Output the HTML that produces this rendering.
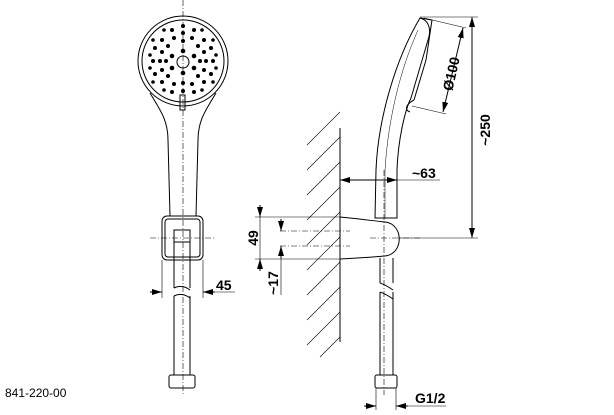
<!DOCTYPE html>
<html><head><style>body{margin:0;background:#fff}svg{display:block}text{font-family:"Liberation Sans",sans-serif;font-weight:bold;fill:#000}</style></head><body>
<svg width="614" height="415" viewBox="0 0 614 415" xmlns="http://www.w3.org/2000/svg">
<defs><marker id="a" markerWidth="10" markerHeight="6" refX="10" refY="3" orient="auto-start-reverse" markerUnits="userSpaceOnUse"><path d="M0,0L10,3L0,6z" fill="#000"/></marker></defs>
<g fill="none" stroke="#000" stroke-width="1">
<circle cx="183" cy="61" r="45"/>
<circle cx="183" cy="61" r="41"/>
<circle cx="183" cy="62" r="6"/>
<path d="M150,93 C160,110 168,120 168,140 L170,216 M216,93 C206,110 198,120 198,140 L196,216"/>
<rect x="180" y="95" width="5" height="15"/>
<line x1="183" y1="0" x2="183" y2="395" stroke-dasharray="6,2,1,2" stroke-width="0.6"/>
<rect x="162" y="216" width="41" height="44" rx="5"/>
<rect x="165" y="219" width="35" height="38" rx="3"/>
<rect x="174" y="230" width="16" height="12"/>
<line x1="150" y1="238" x2="215" y2="238" stroke-dasharray="6,2,1,2" stroke-width="0.6"/>
<path d="M174,242 L174,288 M190,242 L190,288 M174,288 Q182,284 190,290 M174,296 Q182,292 190,298 M174,296 L174,375 M190,296 L190,375"/>
<rect x="169" y="375" width="26" height="13" rx="2"/>
<line x1="162" y1="260" x2="162" y2="298" stroke-width="0.6"/><line x1="203" y1="260" x2="203" y2="298" stroke-width="0.6"/>
<line x1="150" y1="292" x2="162" y2="292" marker-end="url(#a)"/><line x1="215" y1="292" x2="203" y2="292" marker-end="url(#a)"/><line x1="203" y1="292" x2="235" y2="292" stroke-width="0.6"/>
<line x1="340" y1="128" x2="340" y2="342"/>
<g stroke-width="0.6">
<path d="M307,145 L340,112 M307,170 L340,137 M307,195 L340,162 M307,220 L340,187 M307,245 L340,212 M307,270 L340,237 M307,295 L340,262 M307,320 L340,287 M307,345 L340,312 M320,357 L340,337"/>
</g>
<path d="M340,217 C360,219 375,221 385,222 C404,224 404,254 385,256 C372,257 360,258 340,259"/>
<line x1="370" y1="238" x2="420" y2="238" stroke-dasharray="6,2,1,2" stroke-width="0.6"/>
<line x1="280" y1="231" x2="350" y2="231" stroke-dasharray="6,2,1,2" stroke-width="0.6"/>
<line x1="280" y1="246" x2="350" y2="246" stroke-dasharray="6,2,1,2" stroke-width="0.6"/>
<path d="M375,218 L376,170 C378,120 395,60 420,18 C428,20 432,28 428,40 L411,98 C405,110 398,140 397,170 L397,218 Z"/>
<path d="M420,18 L432,20 L426,60 L414,100"/>
<path d="M414,100 C406,104 404,110 410,112"/>
<path d="M385,218 L385,170 C388,120 400,70 418,30" stroke-width="0.5"/>
<line x1="384" y1="170" x2="384" y2="395" stroke-dasharray="6,2,1,2" stroke-width="0.6"/>
<path d="M380,258 L380,283 M393,258 L393,283 M380,283 Q386,285 393,290 M380,292 Q386,294 393,299 M380,292 L380,375 M393,292 L393,375"/>
<rect x="375" y="375" width="22" height="13" rx="2"/>
<line x1="376" y1="388" x2="376" y2="410" stroke-width="0.6"/><line x1="396" y1="388" x2="396" y2="410" stroke-width="0.6"/>
<line x1="364" y1="406" x2="376" y2="406" marker-end="url(#a)"/><line x1="408" y1="406" x2="396" y2="406" marker-end="url(#a)"/><line x1="396" y1="406" x2="446" y2="406" stroke-width="0.6"/>
<line x1="340" y1="180" x2="397" y2="180" marker-start="url(#a)" marker-end="url(#a)"/><line x1="397" y1="180" x2="440" y2="180" stroke-width="0.6"/>
<line x1="420" y1="17" x2="478" y2="17" stroke-width="0.6"/><line x1="398" y1="238" x2="478" y2="238" stroke-width="0.6"/>
<line x1="472" y1="17" x2="472" y2="238" marker-start="url(#a)" marker-end="url(#a)"/>
<line x1="424" y1="18" x2="466" y2="28" stroke-width="0.6"/><line x1="412" y1="106" x2="446" y2="114" stroke-width="0.6"/>
<line x1="463" y1="28" x2="443" y2="112" marker-start="url(#a)" marker-end="url(#a)"/>
<line x1="255" y1="217" x2="340" y2="217" stroke-width="0.6"/><line x1="255" y1="259" x2="340" y2="259" stroke-width="0.6"/>
<line x1="260" y1="205" x2="260" y2="217" marker-end="url(#a)"/><line x1="260" y1="271" x2="260" y2="259" marker-end="url(#a)"/><line x1="260" y1="217" x2="260" y2="259" stroke-width="0.6"/>
<line x1="281" y1="219" x2="281" y2="231" marker-end="url(#a)"/><line x1="281" y1="258" x2="281" y2="246" marker-end="url(#a)"/><line x1="281" y1="246" x2="281" y2="295" stroke-width="0.6"/>
</g>
<g fill="#000">
<circle cx="183" cy="26" r="2"/><circle cx="183" cy="33" r="2"/><circle cx="183" cy="41" r="2"/><circle cx="183" cy="51" r="2.3"/><circle cx="183" cy="73" r="2.3"/><circle cx="183" cy="83" r="2"/><circle cx="183" cy="91" r="2"/>
<circle cx="172" cy="56" r="2.3"/><circle cx="194" cy="56" r="2.3"/><circle cx="172" cy="68" r="2.3"/><circle cx="194" cy="68" r="2.3"/>
<circle cx="153" cy="61" r="2"/><circle cx="160" cy="61" r="2"/><circle cx="166" cy="61" r="2"/><circle cx="200" cy="61" r="2"/><circle cx="206" cy="61" r="2"/><circle cx="213" cy="61" r="2"/>
<circle cx="162" cy="40" r="2"/><circle cx="168" cy="46" r="2"/><circle cx="204" cy="40" r="2"/><circle cx="198" cy="46" r="2"/><circle cx="162" cy="82" r="2"/><circle cx="168" cy="76" r="2"/><circle cx="204" cy="82" r="2"/><circle cx="198" cy="76" r="2"/>
<circle cx="172" cy="30" r="2"/><circle cx="194" cy="30" r="2"/><circle cx="174" cy="38" r="2"/><circle cx="192" cy="38" r="2"/><circle cx="172" cy="92" r="2"/><circle cx="194" cy="92" r="2"/><circle cx="174" cy="84" r="2"/><circle cx="192" cy="84" r="2"/>
<circle cx="155" cy="48" r="2"/><circle cx="211" cy="48" r="2"/><circle cx="155" cy="74" r="2"/><circle cx="211" cy="74" r="2"/><circle cx="162" cy="52" r="2"/><circle cx="204" cy="52" r="2"/><circle cx="162" cy="70" r="2"/><circle cx="204" cy="70" r="2"/>
<circle cx="164" cy="30" r="1.8"/><circle cx="202" cy="30" r="1.8"/><circle cx="153" cy="40" r="1.8"/><circle cx="213" cy="40" r="1.8"/><circle cx="150" cy="55" r="1.8"/><circle cx="216" cy="55" r="1.8"/><circle cx="150" cy="68" r="1.8"/><circle cx="216" cy="68" r="1.8"/><circle cx="153" cy="82" r="1.8"/><circle cx="213" cy="82" r="1.8"/><circle cx="164" cy="90" r="1.8"/><circle cx="202" cy="90" r="1.8"/>
</g>
<text x="216" y="290" font-size="14">45</text>
<text x="412" y="178" font-size="14">~63</text>
<text x="415" y="403" font-size="14">G1/2</text>
<text transform="translate(490,130) rotate(-90)" font-size="14" text-anchor="middle">~250</text>
<text transform="translate(456,75) rotate(-77)" font-size="14" text-anchor="middle">Ø100</text>
<text transform="translate(258,238) rotate(-90)" font-size="14" text-anchor="middle">49</text>
<text transform="translate(278,283) rotate(-90)" font-size="14" text-anchor="middle">~17</text>
<text x="5" y="397" font-size="12" style="font-weight:normal">841-220-00</text>
</svg>
</body></html>
